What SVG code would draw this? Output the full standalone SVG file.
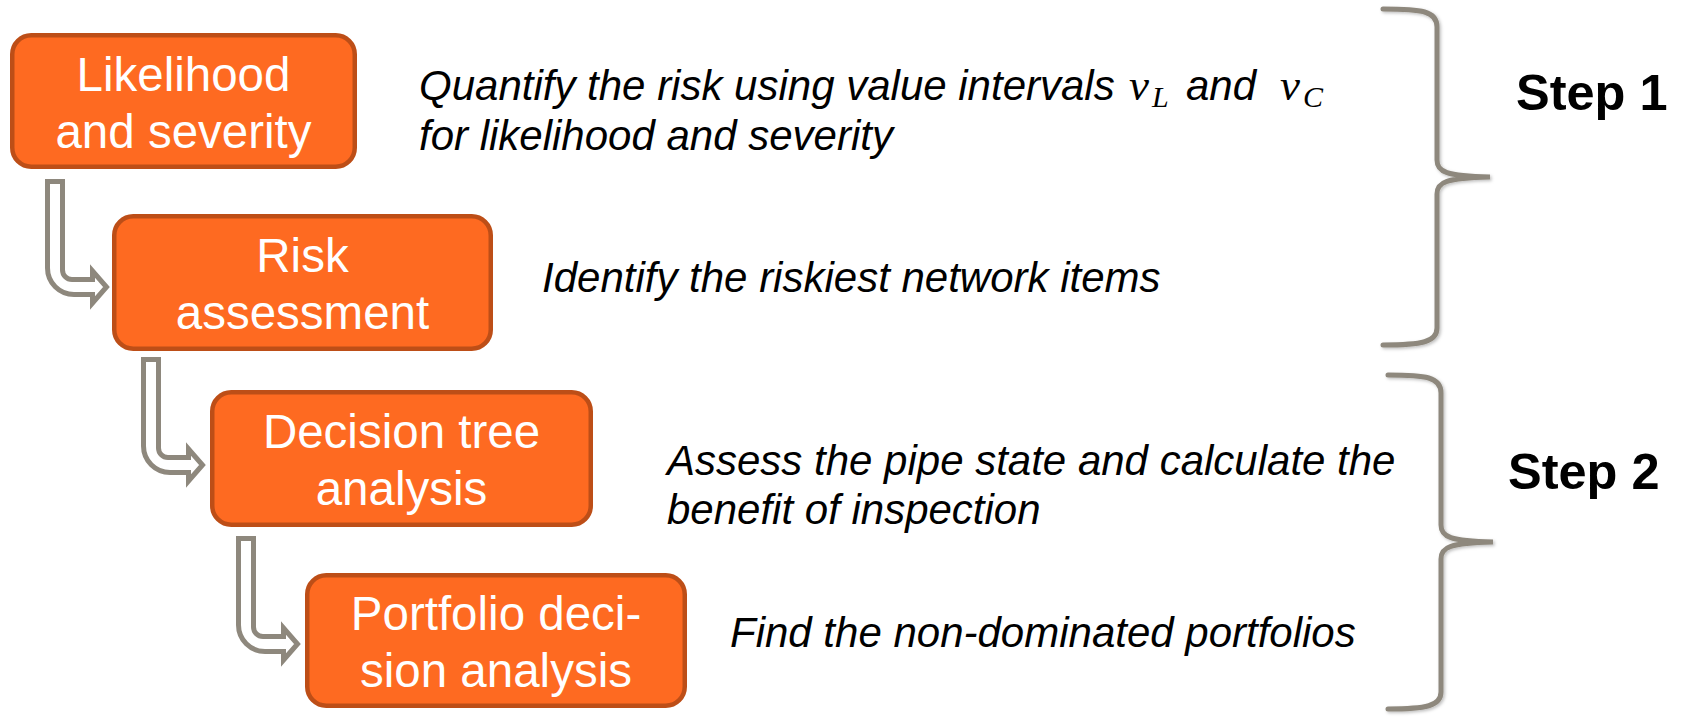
<svg xmlns="http://www.w3.org/2000/svg" width="1681" height="717" viewBox="0 0 1681 717">
  <style>
    .box { fill: #FE6A21; stroke: #BD4E17; stroke-width: 4.5; }
    .box-label { font-family: "Liberation Sans", Arial, sans-serif; font-size: 47.5px; fill: #FFFFFF; text-anchor: middle; }
    .note { font-family: "Liberation Sans", Arial, sans-serif; font-size: 42px; font-style: italic; fill: #000000; }
    .math { font-family: "Liberation Serif", "Times New Roman", serif; font-style: italic; }
    .step { font-family: "Liberation Sans", Arial, sans-serif; font-size: 50.5px; font-weight: bold; fill: #000000; }
    .flow { fill: #FFFFFF; stroke: #8E887D; stroke-width: 5; stroke-linejoin: miter; }
    .brace { fill: none; stroke: #8E887D; stroke-width: 5; stroke-linecap: round; }
  </style>
  <defs>
    <!-- hollow bent arrow: vertical shaft, rounded elbow, arrow head pointing right -->
    <path id="bent-arrow" d="M 2.5,2.5 H 17.5 V 91 A 9.5,9.5 0 0 0 27,100.5 H 47.5 V 92 L 61.5,108 L 47.5,124 V 115.5 H 29 A 26.5,26.5 0 0 1 2.5,89 Z"/>
    <filter id="soft-shadow" x="-20%" y="-5%" width="140%" height="110%">
      <feDropShadow dx="1.5" dy="1.5" stdDeviation="1.5" flood-color="#000000" flood-opacity="0.25"/>
    </filter>
  </defs>

  <!-- connectors between the process steps -->
  <g id="connectors" class="flow">
    <use href="#bent-arrow" x="45" y="179"/>
    <use href="#bent-arrow" x="141" y="357"/>
    <use href="#bent-arrow" x="236" y="536"/>
  </g>

  <!-- process steps -->
  <g id="node-likelihood">
    <rect class="box" x="12.25" y="35.25" width="342.5" height="131.5" rx="19"/>
    <text class="box-label" x="183.5" y="91">Likelihood</text>
    <text class="box-label" x="183.5" y="148">and severity</text>
  </g>
  <g id="node-risk">
    <rect class="box" x="114.25" y="216.25" width="376.5" height="132.5" rx="19"/>
    <text class="box-label" x="302.5" y="272">Risk</text>
    <text class="box-label" x="302.5" y="329">assessment</text>
  </g>
  <g id="node-decision-tree">
    <rect class="box" x="212.25" y="392.25" width="378.5" height="132.5" rx="19"/>
    <text class="box-label" x="401.5" y="448">Decision tree</text>
    <text class="box-label" x="401.5" y="505">analysis</text>
  </g>
  <g id="node-portfolio">
    <rect class="box" x="307.25" y="575.25" width="377.5" height="130.5" rx="19"/>
    <text class="box-label" x="496" y="630">Portfolio deci-</text>
    <text class="box-label" x="496" y="687">sion analysis</text>
  </g>

  <!-- step descriptions -->
  <g id="note-quantify" class="note">
    <text x="419" y="100">Quantify the risk using value intervals</text>
    <text class="math" x="1129" y="100" font-size="45">v</text>
    <text class="math" x="1152" y="107" font-size="30">L</text>
    <text x="1186" y="100">and</text>
    <text class="math" x="1280" y="100" font-size="45">v</text>
    <text class="math" x="1303" y="107" font-size="30">C</text>
    <text x="419" y="150">for likelihood and severity</text>
  </g>
  <g id="note-identify" class="note">
    <text x="542" y="292">Identify the riskiest network items</text>
  </g>
  <g id="note-assess" class="note">
    <text x="667" y="475">Assess the pipe state and calculate the</text>
    <text x="667" y="524">benefit of inspection</text>
  </g>
  <g id="note-find" class="note">
    <text x="730" y="647">Find the non-dominated portfolios</text>
  </g>

  <!-- phase braces -->
  <g id="brace-step1">
    <path class="brace" filter="url(#soft-shadow)" d="M 1383,9 C 1422,9 1437,11 1437,27 V 160 C 1437,172 1446,176 1490,177 C 1446,178 1437,182 1437,194 V 328 C 1437,342 1422,345 1383,345"/>
    <text class="step" x="1516" y="110">Step 1</text>
  </g>
  <g id="brace-step2">
    <path class="brace" filter="url(#soft-shadow)" d="M 1388,375 C 1426,375 1441,377 1441,393 V 525 C 1441,537 1450,541 1493,542 C 1450,543 1441,547 1441,559 V 692 C 1441,706 1426,709 1388,709"/>
    <text class="step" x="1508" y="489">Step 2</text>
  </g>
</svg>
